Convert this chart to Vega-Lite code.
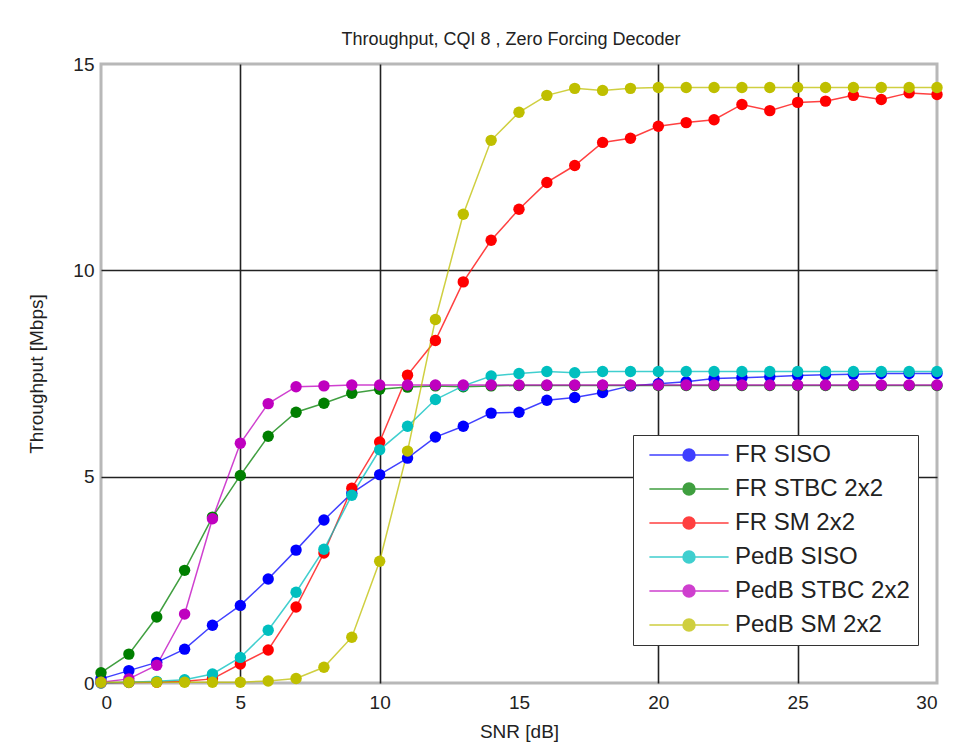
{
  "$schema": "https://vega.github.io/schema/vega-lite/v6.json",
  "autosize": "none",
  "width": 836,
  "height": 619,
  "padding": {"left": 101, "top": 64, "right": 37, "bottom": 72},
  "background": "white",
  "title": {"text": "Throughput, CQI 8 ,  Zero Forcing Decoder", "font": "Liberation Sans", "fontSize": 18, "fontWeight": "normal", "color": "#222", "offset": 6, "anchor": "middle", "dx": -8},
  "config": {
    "view": {"stroke": "#b8b8b8", "strokeWidth": 3},
    "axis": {"grid": true, "gridColor": {"condition": {"test": "datum.value == 0 || datum.value == 30 || datum.value == 15", "value": "transparent"}, "value": "#222"}, "gridWidth": 1.6, "gridOpacity": 1, "domain": false, "ticks": false, "labelFont": "Liberation Sans", "labelFontSize": 19, "labelColor": "#222", "titleFont": "Liberation Sans", "titleFontSize": 19, "titleFontWeight": "normal", "titleColor": "#222"}
  },
  "data": {"values": [
    {"snr":0,"s":"FR SISO","t":0.1},{"snr":1,"s":"FR SISO","t":0.3},{"snr":2,"s":"FR SISO","t":0.5},{"snr":3,"s":"FR SISO","t":0.82},{"snr":4,"s":"FR SISO","t":1.4},{"snr":5,"s":"FR SISO","t":1.88},{"snr":6,"s":"FR SISO","t":2.52},{"snr":7,"s":"FR SISO","t":3.22},{"snr":8,"s":"FR SISO","t":3.95},{"snr":9,"s":"FR SISO","t":4.6},{"snr":10,"s":"FR SISO","t":5.05},{"snr":11,"s":"FR SISO","t":5.45},{"snr":12,"s":"FR SISO","t":5.96},{"snr":13,"s":"FR SISO","t":6.22},{"snr":14,"s":"FR SISO","t":6.54},{"snr":15,"s":"FR SISO","t":6.56},{"snr":16,"s":"FR SISO","t":6.85},{"snr":17,"s":"FR SISO","t":6.92},{"snr":18,"s":"FR SISO","t":7.04},{"snr":19,"s":"FR SISO","t":7.2},{"snr":20,"s":"FR SISO","t":7.25},{"snr":21,"s":"FR SISO","t":7.3},{"snr":22,"s":"FR SISO","t":7.38},{"snr":23,"s":"FR SISO","t":7.4},{"snr":24,"s":"FR SISO","t":7.42},{"snr":25,"s":"FR SISO","t":7.45},{"snr":26,"s":"FR SISO","t":7.47},{"snr":27,"s":"FR SISO","t":7.48},{"snr":28,"s":"FR SISO","t":7.5},{"snr":29,"s":"FR SISO","t":7.5},{"snr":30,"s":"FR SISO","t":7.5},
    {"snr":0,"s":"FR STBC 2x2","t":0.25},{"snr":1,"s":"FR STBC 2x2","t":0.7},{"snr":2,"s":"FR STBC 2x2","t":1.6},{"snr":3,"s":"FR STBC 2x2","t":2.73},{"snr":4,"s":"FR STBC 2x2","t":4.02},{"snr":5,"s":"FR STBC 2x2","t":5.03},{"snr":6,"s":"FR STBC 2x2","t":5.98},{"snr":7,"s":"FR STBC 2x2","t":6.56},{"snr":8,"s":"FR STBC 2x2","t":6.78},{"snr":9,"s":"FR STBC 2x2","t":7.02},{"snr":10,"s":"FR STBC 2x2","t":7.12},{"snr":11,"s":"FR STBC 2x2","t":7.17},{"snr":12,"s":"FR STBC 2x2","t":7.2},{"snr":13,"s":"FR STBC 2x2","t":7.18},{"snr":14,"s":"FR STBC 2x2","t":7.2},{"snr":15,"s":"FR STBC 2x2","t":7.21},{"snr":16,"s":"FR STBC 2x2","t":7.21},{"snr":17,"s":"FR STBC 2x2","t":7.21},{"snr":18,"s":"FR STBC 2x2","t":7.21},{"snr":19,"s":"FR STBC 2x2","t":7.21},{"snr":20,"s":"FR STBC 2x2","t":7.21},{"snr":21,"s":"FR STBC 2x2","t":7.21},{"snr":22,"s":"FR STBC 2x2","t":7.21},{"snr":23,"s":"FR STBC 2x2","t":7.21},{"snr":24,"s":"FR STBC 2x2","t":7.21},{"snr":25,"s":"FR STBC 2x2","t":7.21},{"snr":26,"s":"FR STBC 2x2","t":7.21},{"snr":27,"s":"FR STBC 2x2","t":7.21},{"snr":28,"s":"FR STBC 2x2","t":7.21},{"snr":29,"s":"FR STBC 2x2","t":7.21},{"snr":30,"s":"FR STBC 2x2","t":7.21},
    {"snr":0,"s":"FR SM 2x2","t":0.0},{"snr":1,"s":"FR SM 2x2","t":0.01},{"snr":2,"s":"FR SM 2x2","t":0.02},{"snr":3,"s":"FR SM 2x2","t":0.04},{"snr":4,"s":"FR SM 2x2","t":0.1},{"snr":5,"s":"FR SM 2x2","t":0.46},{"snr":6,"s":"FR SM 2x2","t":0.8},{"snr":7,"s":"FR SM 2x2","t":1.84},{"snr":8,"s":"FR SM 2x2","t":3.15},{"snr":9,"s":"FR SM 2x2","t":4.72},{"snr":10,"s":"FR SM 2x2","t":5.84},{"snr":11,"s":"FR SM 2x2","t":7.46},{"snr":12,"s":"FR SM 2x2","t":8.3},{"snr":13,"s":"FR SM 2x2","t":9.72},{"snr":14,"s":"FR SM 2x2","t":10.73},{"snr":15,"s":"FR SM 2x2","t":11.48},{"snr":16,"s":"FR SM 2x2","t":12.13},{"snr":17,"s":"FR SM 2x2","t":12.54},{"snr":18,"s":"FR SM 2x2","t":13.1},{"snr":19,"s":"FR SM 2x2","t":13.2},{"snr":20,"s":"FR SM 2x2","t":13.49},{"snr":21,"s":"FR SM 2x2","t":13.58},{"snr":22,"s":"FR SM 2x2","t":13.65},{"snr":23,"s":"FR SM 2x2","t":14.02},{"snr":24,"s":"FR SM 2x2","t":13.87},{"snr":25,"s":"FR SM 2x2","t":14.07},{"snr":26,"s":"FR SM 2x2","t":14.1},{"snr":27,"s":"FR SM 2x2","t":14.24},{"snr":28,"s":"FR SM 2x2","t":14.14},{"snr":29,"s":"FR SM 2x2","t":14.3},{"snr":30,"s":"FR SM 2x2","t":14.26},
    {"snr":0,"s":"PedB SISO","t":0.0},{"snr":1,"s":"PedB SISO","t":0.02},{"snr":2,"s":"PedB SISO","t":0.04},{"snr":3,"s":"PedB SISO","t":0.08},{"snr":4,"s":"PedB SISO","t":0.22},{"snr":5,"s":"PedB SISO","t":0.62},{"snr":6,"s":"PedB SISO","t":1.28},{"snr":7,"s":"PedB SISO","t":2.2},{"snr":8,"s":"PedB SISO","t":3.24},{"snr":9,"s":"PedB SISO","t":4.55},{"snr":10,"s":"PedB SISO","t":5.65},{"snr":11,"s":"PedB SISO","t":6.22},{"snr":12,"s":"PedB SISO","t":6.87},{"snr":13,"s":"PedB SISO","t":7.2},{"snr":14,"s":"PedB SISO","t":7.44},{"snr":15,"s":"PedB SISO","t":7.5},{"snr":16,"s":"PedB SISO","t":7.55},{"snr":17,"s":"PedB SISO","t":7.52},{"snr":18,"s":"PedB SISO","t":7.55},{"snr":19,"s":"PedB SISO","t":7.55},{"snr":20,"s":"PedB SISO","t":7.55},{"snr":21,"s":"PedB SISO","t":7.55},{"snr":22,"s":"PedB SISO","t":7.55},{"snr":23,"s":"PedB SISO","t":7.55},{"snr":24,"s":"PedB SISO","t":7.55},{"snr":25,"s":"PedB SISO","t":7.55},{"snr":26,"s":"PedB SISO","t":7.55},{"snr":27,"s":"PedB SISO","t":7.55},{"snr":28,"s":"PedB SISO","t":7.55},{"snr":29,"s":"PedB SISO","t":7.55},{"snr":30,"s":"PedB SISO","t":7.55},
    {"snr":0,"s":"PedB STBC 2x2","t":0.02},{"snr":1,"s":"PedB STBC 2x2","t":0.1},{"snr":2,"s":"PedB STBC 2x2","t":0.43},{"snr":3,"s":"PedB STBC 2x2","t":1.67},{"snr":4,"s":"PedB STBC 2x2","t":3.98},{"snr":5,"s":"PedB STBC 2x2","t":5.81},{"snr":6,"s":"PedB STBC 2x2","t":6.77},{"snr":7,"s":"PedB STBC 2x2","t":7.18},{"snr":8,"s":"PedB STBC 2x2","t":7.2},{"snr":9,"s":"PedB STBC 2x2","t":7.22},{"snr":10,"s":"PedB STBC 2x2","t":7.22},{"snr":11,"s":"PedB STBC 2x2","t":7.22},{"snr":12,"s":"PedB STBC 2x2","t":7.22},{"snr":13,"s":"PedB STBC 2x2","t":7.22},{"snr":14,"s":"PedB STBC 2x2","t":7.22},{"snr":15,"s":"PedB STBC 2x2","t":7.22},{"snr":16,"s":"PedB STBC 2x2","t":7.22},{"snr":17,"s":"PedB STBC 2x2","t":7.22},{"snr":18,"s":"PedB STBC 2x2","t":7.22},{"snr":19,"s":"PedB STBC 2x2","t":7.22},{"snr":20,"s":"PedB STBC 2x2","t":7.22},{"snr":21,"s":"PedB STBC 2x2","t":7.22},{"snr":22,"s":"PedB STBC 2x2","t":7.22},{"snr":23,"s":"PedB STBC 2x2","t":7.22},{"snr":24,"s":"PedB STBC 2x2","t":7.22},{"snr":25,"s":"PedB STBC 2x2","t":7.22},{"snr":26,"s":"PedB STBC 2x2","t":7.22},{"snr":27,"s":"PedB STBC 2x2","t":7.22},{"snr":28,"s":"PedB STBC 2x2","t":7.22},{"snr":29,"s":"PedB STBC 2x2","t":7.22},{"snr":30,"s":"PedB STBC 2x2","t":7.22},
    {"snr":0,"s":"PedB SM 2x2","t":0.02},{"snr":1,"s":"PedB SM 2x2","t":0.02},{"snr":2,"s":"PedB SM 2x2","t":0.02},{"snr":3,"s":"PedB SM 2x2","t":0.02},{"snr":4,"s":"PedB SM 2x2","t":0.02},{"snr":5,"s":"PedB SM 2x2","t":0.02},{"snr":6,"s":"PedB SM 2x2","t":0.05},{"snr":7,"s":"PedB SM 2x2","t":0.11},{"snr":8,"s":"PedB SM 2x2","t":0.38},{"snr":9,"s":"PedB SM 2x2","t":1.11},{"snr":10,"s":"PedB SM 2x2","t":2.95},{"snr":11,"s":"PedB SM 2x2","t":5.62},{"snr":12,"s":"PedB SM 2x2","t":8.81},{"snr":13,"s":"PedB SM 2x2","t":11.36},{"snr":14,"s":"PedB SM 2x2","t":13.15},{"snr":15,"s":"PedB SM 2x2","t":13.83},{"snr":16,"s":"PedB SM 2x2","t":14.24},{"snr":17,"s":"PedB SM 2x2","t":14.41},{"snr":18,"s":"PedB SM 2x2","t":14.36},{"snr":19,"s":"PedB SM 2x2","t":14.41},{"snr":20,"s":"PedB SM 2x2","t":14.43},{"snr":21,"s":"PedB SM 2x2","t":14.43},{"snr":22,"s":"PedB SM 2x2","t":14.43},{"snr":23,"s":"PedB SM 2x2","t":14.43},{"snr":24,"s":"PedB SM 2x2","t":14.43},{"snr":25,"s":"PedB SM 2x2","t":14.43},{"snr":26,"s":"PedB SM 2x2","t":14.43},{"snr":27,"s":"PedB SM 2x2","t":14.43},{"snr":28,"s":"PedB SM 2x2","t":14.43},{"snr":29,"s":"PedB SM 2x2","t":14.43},{"snr":30,"s":"PedB SM 2x2","t":14.43}
  ]},
  "encoding": {
    "x": {"field": "snr", "type": "quantitative", "scale": {"domain": [0, 30], "nice": false}, "axis": {"values": [0,5,10,15,20,25,30], "title": "SNR [dB]", "labelPadding": 10, "titlePadding": 10}},
    "y": {"field": "t", "type": "quantitative", "scale": {"domain": [0, 15], "nice": false}, "axis": {"values": [0,5,10,15], "title": "Throughput [Mbps]", "labelPadding": 7, "titlePadding": 26, "gridColor": {"condition": {"test": "datum.value == 0 || datum.value == 15", "value": "transparent"}, "value": "#222"}}},
    "color": {"field": "s", "type": "nominal",
      "scale": {"domain": ["FR SISO","FR STBC 2x2","FR SM 2x2","PedB SISO","PedB STBC 2x2","PedB SM 2x2"], "range": ["#0000ff","#007f00","#ff0000","#00bfbf","#bf00bf","#bfbf00"]},
      "legend": {"title": null, "orient": "none", "legendX": 532, "legendY": 371, "strokeColor": "#333", "fillColor": "white", "padding": 8, "symbolType": "M-6.6,0L6.6,0M-1,0A1,1,0,1,1,1,0A1,1,0,1,1,-1,0", "symbolSize": 144, "symbolStrokeWidth": 1.5, "symbolOffset": 36, "labelOffset": 34, "labelFont": "Liberation Sans", "labelFontSize": 24, "labelColor": "#222", "labelLimit": 400, "rowPadding": 10,
        "encode": {"symbols": {"update": {"fill": {"scale": "color", "field": "value"}, "stroke": {"scale": "color", "field": "value"}, "opacity": {"value": 1}}}}}
    }
  },
  "layer": [
    {"mark": {"type": "line", "strokeWidth": 1.5, "opacity": 0.75}},
    {"mark": {"type": "point", "filled": true, "size": 130, "opacity": 1}}
  ]
}
